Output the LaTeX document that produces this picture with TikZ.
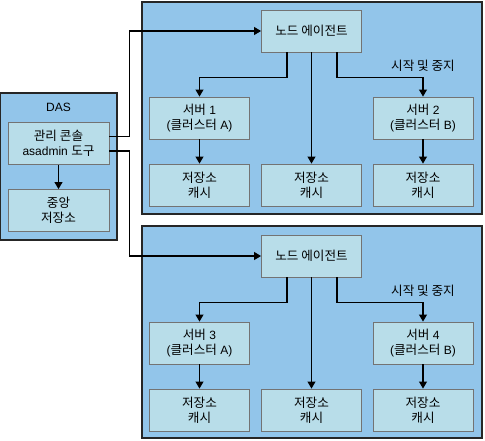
\documentclass[tikz,border=0pt]{standalone}
\usepackage{fontspec}
\setmainfont{Liberation Sans}
\newfontfamily\kr[Scale=1.05]{Noto Sans CJK KR}
\usetikzlibrary{arrows.meta}
\definecolor{grpblue}{HTML}{92C5EA}
\definecolor{boxblue}{HTML}{B8DDE9}

\begin{document}
\begin{tikzpicture}[x=1pt,y=-1pt,font=\fontsize{12}{15}\selectfont,
  grp/.style={draw=black!85,fill=grpblue,line width=1.3pt},
  box/.style={draw=black!55,fill=boxblue,line width=0.9pt,minimum width=100pt,minimum height=42pt,align=center,inner sep=0pt},
  arr/.style={-{Triangle[length=7pt,width=8pt]},line width=1.1pt}]
\useasboundingbox (0,0) rectangle (485,440);
% groups
\draw[grp] (142,2) rectangle (482,214);
\draw[grp] (142,226) rectangle (482,438);
\draw[grp] (0.7,93) rectangle (117,240);
% DAS
\node (das) at (58.5,107) {DAS};
\node[box,minimum width=101pt] (console) at (58.5,143.5) {{\kr 관리 콘솔}\\asadmin {\kr 도구}};
\node[box,minimum width=101pt] (repo) at (58.5,210.5) {\kr 중앙\\\kr 저장소};
\draw[arr] (console) -- (repo);
% upper machine
\node[box] (agent1) at (311.5,31) {\kr 노드 에이전트};
\node[box] (srv1) at (199.5,118) {{\kr 서버} 1\\({\kr 클러스터} A)};
\node[box] (srv2) at (423,118) {{\kr 서버} 2\\({\kr 클러스터} B)};
\node[box] (cache1) at (199.5,185) {\kr 저장소\\\kr 캐시};
\node[box] (cachem1) at (311.5,185) {\kr 저장소\\\kr 캐시};
\node[box] (cache2) at (423,185) {\kr 저장소\\\kr 캐시};
\node (ctl1) at (423,66) {\kr 시작 및 중지};
\draw[arr] ([xshift=-24.5pt]agent1.south) -- ++(0,25) -| (srv1.north);
\draw[arr] (agent1) -- (cachem1);
\draw[arr] ([xshift=25.5pt]agent1.south) -- ++(0,25) -| (srv2.north);
\draw[arr] (srv1) -- (cache1);
\draw[arr] (srv2) -- (cache2);
% lower machine
\node[box] (agent2) at (311.5,256) {\kr 노드 에이전트};
\node[box] (srv3) at (199.5,343) {{\kr 서버} 3\\({\kr 클러스터} A)};
\node[box] (srv4) at (423,343) {{\kr 서버} 4\\({\kr 클러스터} B)};
\node[box] (cache3) at (199.5,410) {\kr 저장소\\\kr 캐시};
\node[box] (cachem2) at (311.5,410) {\kr 저장소\\\kr 캐시};
\node[box] (cache4) at (423,410) {\kr 저장소\\\kr 캐시};
\node (ctl2) at (423,291) {\kr 시작 및 중지};
\draw[arr] ([xshift=-24.5pt]agent2.south) -- ++(0,25) -| (srv3.north);
\draw[arr] (agent2) -- (cachem2);
\draw[arr] ([xshift=25.5pt]agent2.south) -- ++(0,25) -| (srv4.north);
\draw[arr] (srv3) -- (cache3);
\draw[arr] (srv4) -- (cache4);
% DAS to agents
\draw[arr] ([yshift=7pt]console.east) -- ++(20,0) |- (agent1.west);
\draw[arr] ([yshift=-7.5pt]console.east) -- ++(20,0) |- (agent2.west);
\end{tikzpicture}
\end{document}
